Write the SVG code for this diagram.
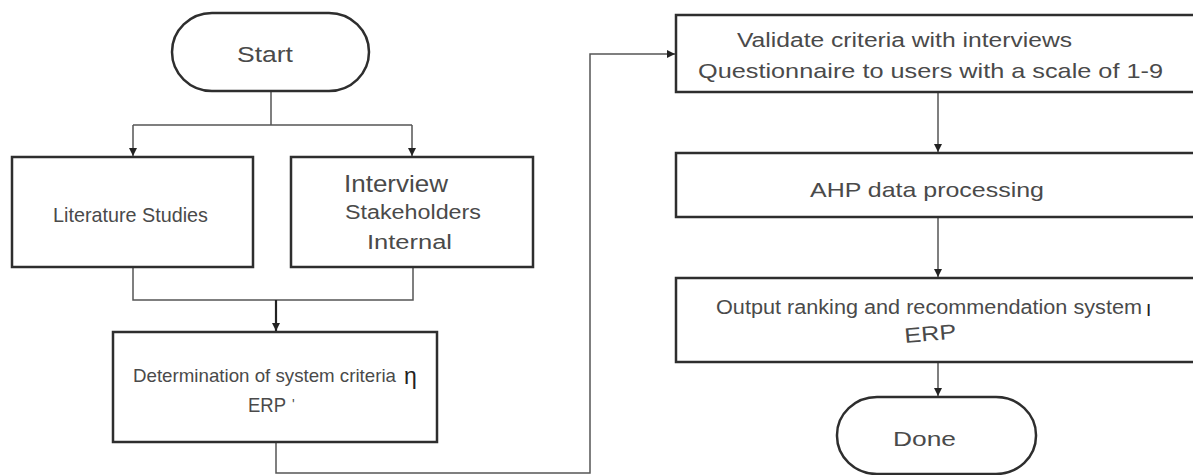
<svg xmlns="http://www.w3.org/2000/svg" width="1193" height="475" viewBox="0 0 1193 475">
<style>
.box{fill:#fff;stroke:#2e2e2e;stroke-width:2.5}
.c{fill:none;stroke:#555;stroke-width:1.5}
.ct{fill:none;stroke:#222;stroke-width:2.2}
text{font-family:"Liberation Sans",Arial,sans-serif;fill:#4a4a4a}
</style>
<defs>
<marker id="ah" markerUnits="userSpaceOnUse" markerWidth="9" markerHeight="9" refX="8" refY="4" orient="auto">
<path d="M0,0 L8,4 L0,8 z" fill="#222"/>
</marker>
</defs>
<rect width="1193" height="475" fill="#fff"/>
<g id="connectors">
<path class="c" d="M271,91 V125 M133,125 H412"/>
<path class="c" d="M133,125 V156" marker-end="url(#ah)"/>
<path class="c" d="M412,125 V156" marker-end="url(#ah)"/>
<path class="c" d="M133,267 V300 H413 V267"/>
<path class="ct" d="M276,300 V331" marker-end="url(#ah)"/>
<path class="c" d="M276,442 V473 H590 V54 H675" marker-end="url(#ah)"/>
<path class="c" d="M938,92 V152" marker-end="url(#ah)"/>
<path class="c" d="M938,217 V277" marker-end="url(#ah)"/>
<path class="c" d="M938,362 V396" marker-end="url(#ah)"/>
</g>
<g id="start">
<rect class="box" x="172" y="13" width="197" height="78" rx="40" ry="39"/>
<text x="237" y="62" font-size="22" textLength="56" lengthAdjust="spacingAndGlyphs">Start</text>
</g>
<g id="literature">
<rect class="box" x="12" y="157" width="241" height="110"/>
<text x="53" y="222" font-size="21" textLength="155" lengthAdjust="spacingAndGlyphs">Literature Studies</text>
</g>
<g id="interview">
<rect class="box" x="291" y="157" width="242" height="110"/>
<text x="344" y="192" font-size="24" textLength="104" lengthAdjust="spacingAndGlyphs">Interview</text>
<text x="345" y="219" font-size="20" textLength="136" lengthAdjust="spacingAndGlyphs">Stakeholders</text>
<text x="367" y="249" font-size="20" textLength="85" lengthAdjust="spacingAndGlyphs">Internal</text>
</g>
<g id="determination">
<rect class="box" x="113" y="332" width="324" height="110"/>
<text x="133" y="382" font-size="18.6" textLength="263" lengthAdjust="spacingAndGlyphs">Determination of system criteria</text>
<text x="404" y="384" font-size="23" style="fill:#222">η</text>
<text x="248" y="412" font-size="21" textLength="38" lengthAdjust="spacingAndGlyphs">ERP</text>
<text x="292" y="409" font-size="14">'</text>
</g>
<g id="validate">
<rect class="box" x="676" y="15" width="530" height="77"/>
<text x="737" y="47" font-size="20" textLength="335" lengthAdjust="spacingAndGlyphs">Validate criteria with interviews</text>
<text x="698" y="78" font-size="21" textLength="465" lengthAdjust="spacingAndGlyphs">Questionnaire to users with a scale of 1-9</text>
</g>
<g id="ahp">
<rect class="box" x="676" y="153" width="530" height="64"/>
<text x="810" y="197" font-size="21" textLength="234" lengthAdjust="spacingAndGlyphs">AHP data processing</text>
</g>
<g id="output">
<rect class="box" x="676" y="278" width="530" height="84"/>
<text x="716" y="314" font-size="20" textLength="426" lengthAdjust="spacingAndGlyphs">Output ranking and recommendation system</text>
<text x="1146" y="316" font-size="20" style="fill:#222">ו</text>
<text x="905" y="343" font-size="21" textLength="52" lengthAdjust="spacingAndGlyphs" transform="rotate(-5 905 343)">ERP</text>
</g>
<g id="done">
<rect class="box" x="837" y="397" width="199" height="77" rx="40" ry="38"/>
<text x="893" y="446" font-size="20" textLength="63" lengthAdjust="spacingAndGlyphs">Done</text>
</g>
</svg>
